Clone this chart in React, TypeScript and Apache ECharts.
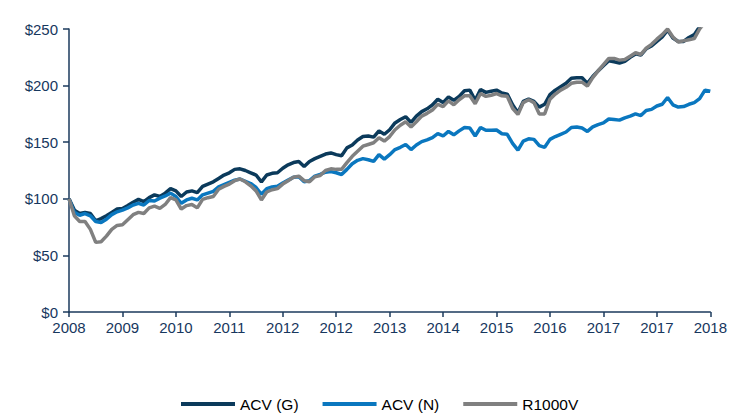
import React, { useEffect, useRef } from "react";
import * as echarts from "echarts";

const tickLabels = ["2008", "2009", "2010", "2011", "2012", "2012", "2013", "2014", "2015", "2016", "2017", "2017", "2018"];

const seriesNames = ["ACV (G)", "ACV (N)", "R1000V"];

const acvG = [
  100, 90, 87, 88, 87, 80.5, 82.5, 85, 88, 91,
  91.5, 94, 97, 99.5, 97.5, 101, 103.5, 102, 105, 109,
  107, 102, 106, 107, 105.5, 111, 113, 115, 118, 121,
  123, 126, 126.5, 125, 123, 121, 115, 121, 122.5, 123,
  127, 130, 132, 133, 128.5, 133, 135.5, 137.5, 139.5, 140.5,
  139, 138, 145, 147.5, 152, 155, 155.5, 154.5, 160, 157,
  161, 167, 170, 172.5, 167.5, 173, 177, 179.5, 183, 188,
  185, 190, 187, 190.5, 195.5, 196, 187, 196.5, 194, 195,
  196, 193.5, 192.5, 183, 176, 186, 188, 186, 181, 183.5,
  192, 196, 199, 202, 206.5, 207, 207, 202, 208, 213,
  217.5, 222, 221, 220, 221.5, 225, 228, 227, 232.5, 235,
  239, 243, 249, 242, 239, 239, 242.5, 245, 252, 258,
  262,
];

const acvN = [
  100, 88, 85.5, 87, 85, 80, 79, 82, 86, 88.5,
  90, 92, 94.5, 96, 94.5, 98.5, 98, 100.5, 102.5, 105,
  102, 96, 99, 100.5, 99, 103.5, 105, 106.5, 110.5, 112.5,
  114.5, 116.5, 117.5, 115.5, 113.5, 110, 104, 109, 110.5, 111,
  114, 116.5, 119, 119.5, 115, 116, 120, 121.5, 123.5, 124,
  123, 121.5, 126, 131, 134, 135.5, 134.5, 133, 139, 135,
  139, 143.5, 145.5, 148, 143.5, 147.5, 150.5, 152, 154, 157.5,
  155.5, 159.5, 156.5, 160, 163, 162.5, 155.5, 163, 160.5, 160.5,
  160.8, 157.5, 157, 149, 143, 151, 153, 152.5, 147, 145.5,
  152.5, 155, 157, 159, 163, 163.5, 162.5, 159.5, 163.5, 165.5,
  167, 170.5, 170, 169.5, 171.5, 173, 175, 173.5, 178, 179,
  182, 183.5, 189.5, 183, 181, 181.5, 183.5, 185, 188.5, 196,
  195,
];

const r1000v = [
  100, 85, 80, 80, 73, 61.5, 62, 67, 73, 76.5,
  77, 81.5, 86, 88, 87, 92, 93.5, 91.5, 95, 101,
  99, 91, 94, 95, 92, 99.5, 101, 102, 108.5, 111,
  113, 116, 117.5, 115, 111.5, 107, 99, 106, 108, 109,
  113, 116, 119, 120, 116, 115, 119.5, 120.5, 125, 126.5,
  126, 126, 132, 137.5, 142, 146.5, 148, 149.5, 154, 151,
  155, 161, 165, 168, 163.5, 168, 173, 175.5, 178.5, 183.5,
  181.5, 186.5, 183, 187.5, 191, 191, 184, 193, 190.5, 191.5,
  193, 191, 190.5, 180, 174.5, 185, 187.5, 185, 175, 175,
  188, 192.5, 196, 198.5, 202, 203, 203, 199.5, 207, 213,
  218.5, 224, 224, 222.5, 223, 226, 229, 227.5, 233, 236.5,
  241, 245, 250, 243, 238.5, 239.5, 240.5, 241.5, 250, 256,
  260,
];

const categories: string[] = acvG.map((_, i) => String(i));

const colors = ["#0B3A5B", "#0A77BF", "#808080"];
const textColor = "#17375E";
const axisColor = "#1B3A5C";
const fontFamily = "'Liberation Sans', Arial, sans-serif";

export default function App() {
  const ref = useRef<HTMLDivElement>(null);

  useEffect(() => {
    if (!ref.current) return;
    const chart = echarts.init(ref.current, undefined, { renderer: "svg" });
    const data = [acvG, acvN, r1000v];
    chart.setOption({
      animation: false,
      backgroundColor: "#ffffff",
      textStyle: { fontFamily },
      grid: { left: 69, right: 19, top: 29, bottom: 105, containLabel: false },
      legend: {
        left: 176,
        top: 391,
        icon: "rect",
        itemWidth: 54,
        itemHeight: 4,
        itemGap: 24,
        textStyle: { fontSize: 15.5, color: "#000000", fontFamily },
        data: seriesNames,
      },
      xAxis: {
        type: "category",
        data: categories,
        boundaryGap: false,
        axisLine: { show: true, lineStyle: { color: axisColor, width: 1.5 } },
        axisTick: { show: true, interval: 9, length: 5, lineStyle: { color: axisColor, width: 1.5 } },
        axisLabel: {
          interval: 9,
          margin: 8,
          fontSize: 15,
          color: textColor,
          fontFamily,
          formatter: (_v: string, idx: number) => tickLabels[Math.round(idx / 10)] ?? "",
        },
        splitLine: { show: false },
      },
      yAxis: {
        type: "value",
        min: 0,
        max: 250,
        interval: 50,
        axisLine: { show: true, lineStyle: { color: axisColor, width: 1.5 } },
        axisTick: { show: true, length: 6, lineStyle: { color: axisColor, width: 1.5 } },
        axisLabel: {
          margin: 11,
          fontSize: 15,
          color: textColor,
          fontFamily,
          formatter: (v: number) => "$" + v,
        },
        splitLine: { show: false },
      },
      series: seriesNames.map((name, i) => ({
        name,
        type: "line",
        data: data[i],
        symbol: "none",
        clip: true,
        lineStyle: { color: colors[i], width: 3.5 },
        itemStyle: { color: colors[i] },
        z: 2 + i,
      })),
    });
    return () => chart.dispose();
  }, []);

  return (
    <div
      ref={ref}
      style={{ position: "fixed", left: 0, top: 0, width: 730, height: 417, background: "#fff" }}
    />
  );
}
